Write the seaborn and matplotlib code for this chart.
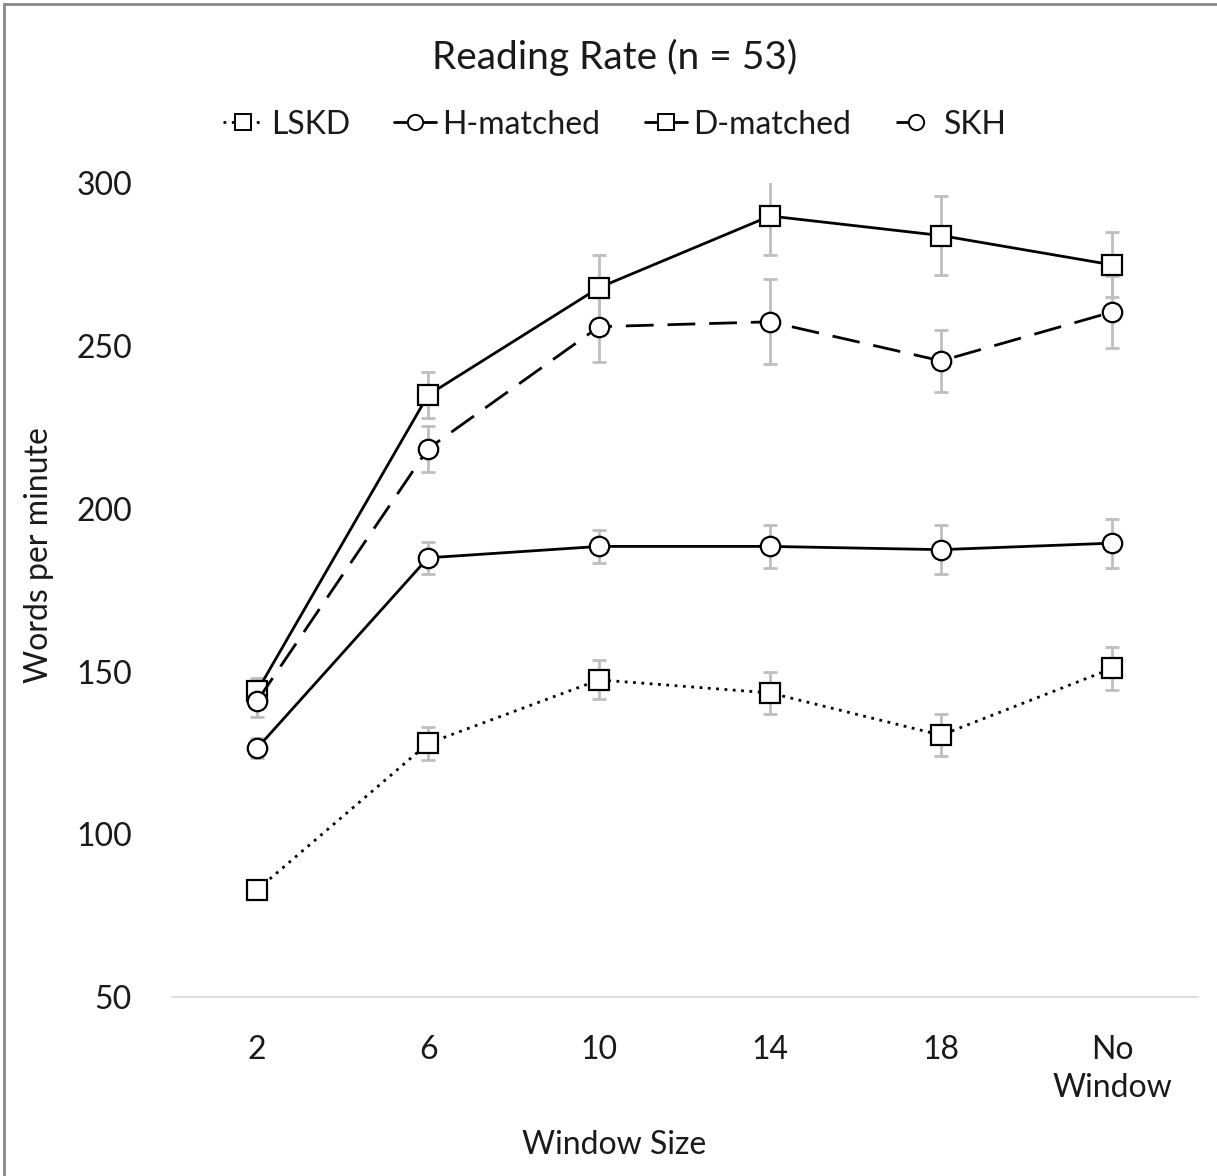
import pandas as pd
import seaborn as sns
import matplotlib.pyplot as plt
from matplotlib.patches import Rectangle
from matplotlib.lines import Line2D

window = ["2", "6", "10", "14", "18", "No\nWindow"]

lskd = [83, 128, 147.5, 143.5, 130.5, 151]
h_matched = [126.5, 185, 188.5, 188.5, 187.5, 189.5]
d_matched = [144, 235, 268, 290, 284, 275]
skh = [141, 218.5, 256, 257.5, 245.5, 260.5]

lskd_err = [1.5, 5, 6, 6.5, 6.5, 6.5]
h_matched_err = [3, 5, 5, 6.5, 7.5, 7.5]
d_matched_err = [4, 7, 10, 12, 12, 10]
skh_err = [5, 7, 11, 13, 9.5, 11]

sns.set_style("white")
plt.rcParams["font.family"] = ["Lato", "DejaVu Sans"]

series = [
    ("LSKD", lskd, lskd_err, "s", (0, (1, 2)), 2.0),
    ("H-matched", h_matched, h_matched_err, "o", "-", 2.0),
    ("D-matched", d_matched, d_matched_err, "s", "-", 2.0),
    ("SKH", skh, skh_err, "o", (0, (10, 5)), 2.0),
]

fig = plt.figure(figsize=(12.17, 11.76), dpi=100)
ax = fig.add_axes([0.141, 0.152, 0.843, 0.692])

x = list(range(len(window)))
handles = []
for name, vals, errs, mk, ls, lw in series:
    df = pd.DataFrame({"x": x, "y": vals})
    ax.errorbar(x, vals, yerr=errs, fmt="none", ecolor="#BFBFBF",
                elinewidth=2, capsize=5, capthick=2, zorder=1)
    sns.lineplot(data=df, x="x", y="y", ax=ax, color="black", linewidth=lw,
                 marker=mk, markersize=14, markerfacecolor="white",
                 markeredgecolor="black", markeredgewidth=1.6, zorder=3)
    ax.lines[-1].set_linestyle(ls)
    handles.append(Line2D([], [], color="black", linewidth=lw, linestyle=ls,
                          marker=mk, markersize=11, markerfacecolor="white",
                          markeredgecolor="black", markeredgewidth=1.4))

ax.set_xlim(-0.5, 5.5)
ax.set_ylim(50, 300)
ax.set_xticks(x)
ax.set_xticklabels(window, linespacing=1.3)
ax.set_yticks(range(50, 301, 50))
ax.tick_params(left=False, bottom=False, labelsize=23, colors="#1a1a1a")
ax.tick_params(axis="y", pad=25)
ax.tick_params(axis="x", pad=24)
for s in ["top", "right", "left"]:
    ax.spines[s].set_visible(False)
ax.spines["bottom"].set_color("#D9D9D9")
ax.spines["bottom"].set_linewidth(1.2)

ax.set_xlabel("")
ax.set_ylabel("")
fig.text(0.032, 0.528, "Words per minute", ha="center", va="center", rotation=90,
         fontsize=23, color="#1a1a1a")
fig.text(0.505, 0.026, "Window Size", ha="center", va="center",
         fontsize=23, color="#1a1a1a")

fig.legend(handles=handles, labels=[s[0] for s in series], loc="center",
           bbox_to_anchor=(0.505, 0.894), ncol=4, frameon=False, fontsize=23,
           handlelength=1.3, handletextpad=0.2, columnspacing=1.4,
           labelcolor="#1a1a1a")

fig.text(0.505, 0.951, "Reading Rate (n = 53)", ha="center", va="center",
         fontsize=28, color="#1a1a1a")

fig.patches.append(Rectangle((0.003, -0.05), 1.2, 1.047, transform=fig.transFigure,
                             fill=False, edgecolor="#888888", linewidth=2))

fig.savefig("out.png", dpi=100)
